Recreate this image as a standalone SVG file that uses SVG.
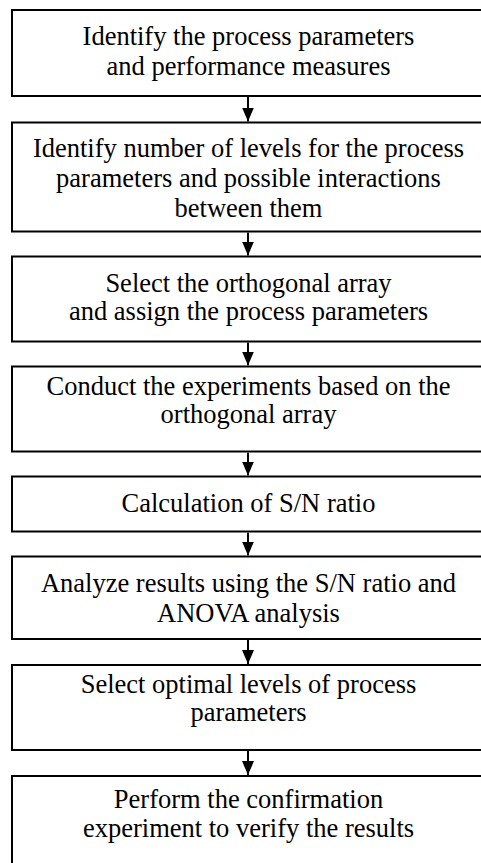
<svg xmlns="http://www.w3.org/2000/svg" width="481" height="863" viewBox="0 0 481 863">
<style>
.box{fill:#fff;stroke:#000;stroke-width:2}
.t{font-family:"Liberation Serif","Times New Roman",serif;font-size:26.5px;fill:#000;text-anchor:middle}
.c{stroke:#000;stroke-width:2;fill:none}
</style>
<defs>
<marker id="ah" markerWidth="14" markerHeight="12" refX="14" refY="6" orient="auto" markerUnits="userSpaceOnUse" viewBox="0 0 14 12">
<path d="M0,0 L14,6 L0,12 Z" fill="#000"/>
</marker>
</defs>
<rect width="481" height="863" fill="#fff"/>
<g id="n1"><rect class="box" x="12" y="10" width="474" height="86"/>
<text class="t" x="248.5" y="45">Identify the process parameters</text>
<text class="t" x="248.5" y="75">and performance measures</text></g>
<g id="n2"><rect class="box" x="12" y="122.5" width="474" height="109"/>
<text class="t" x="248.5" y="157">Identify number of levels for the process</text>
<text class="t" x="248.5" y="187">parameters and possible interactions</text>
<text class="t" x="248.5" y="217">between them</text></g>
<g id="n3"><rect class="box" x="12" y="256.5" width="474" height="85"/>
<text class="t" x="248.5" y="292">Select the orthogonal array</text>
<text class="t" x="248.5" y="320">and assign the process parameters</text></g>
<g id="n4"><rect class="box" x="12" y="366.5" width="474" height="85"/>
<text class="t" x="248.5" y="395">Conduct the experiments based on the</text>
<text class="t" x="248.5" y="423">orthogonal array</text></g>
<g id="n5"><rect class="box" x="12" y="476.5" width="474" height="55"/>
<text class="t" x="248.5" y="512">Calculation of S/N ratio</text></g>
<g id="n6"><rect class="box" x="12" y="556.5" width="474" height="82.5"/>
<text class="t" x="248.5" y="592">Analyze results using the S/N ratio and</text>
<text class="t" x="248.5" y="622">ANOVA analysis</text></g>
<g id="n7"><rect class="box" x="12" y="665" width="474" height="85"/>
<text class="t" x="248.5" y="693">Select optimal levels of process</text>
<text class="t" x="248.5" y="721">parameters</text></g>
<g id="n8"><rect class="box" x="12" y="776" width="474" height="100"/>
<text class="t" x="248.5" y="808">Perform the confirmation</text>
<text class="t" x="248.5" y="837">experiment to verify the results</text></g>
<g id="connectors">
<line class="c" x1="248" y1="97" x2="248" y2="121.5" marker-end="url(#ah)"/>
<line class="c" x1="248" y1="232.5" x2="248" y2="255.5" marker-end="url(#ah)"/>
<line class="c" x1="248" y1="342.5" x2="248" y2="365.5" marker-end="url(#ah)"/>
<line class="c" x1="248" y1="452.5" x2="248" y2="475.5" marker-end="url(#ah)"/>
<line class="c" x1="248" y1="532.5" x2="248" y2="555.5" marker-end="url(#ah)"/>
<line class="c" x1="248" y1="640" x2="248" y2="664" marker-end="url(#ah)"/>
<line class="c" x1="248" y1="751" x2="248" y2="775" marker-end="url(#ah)"/>
</g>
</svg>
